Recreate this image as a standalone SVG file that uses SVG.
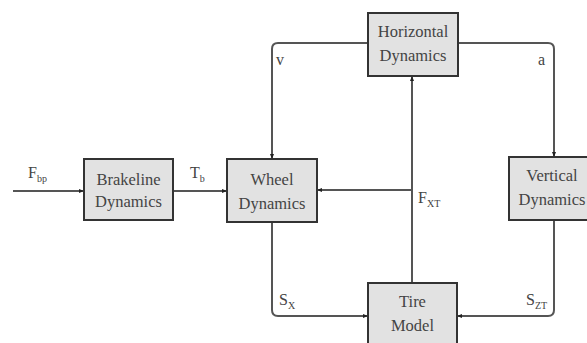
<svg xmlns="http://www.w3.org/2000/svg" width="587" height="343" viewBox="0 0 587 343">
<defs>
<marker id="ah" viewBox="0 0 10 10" refX="10" refY="5" markerWidth="5" markerHeight="5" orient="auto" markerUnits="userSpaceOnUse">
<path d="M0,1 L10,5 L0,9 Z" fill="#222"/>
</marker>
<style>
.box{fill:#e2e2e2;stroke:#333;stroke-width:2}
.lbl{font-family:'Liberation Serif','DejaVu Serif',serif;font-size:16.5px;fill:#444;text-anchor:middle}
.sig{font-family:'Liberation Serif','DejaVu Serif',serif;font-size:16px;fill:#444}
.sub{font-size:10px}
.ln{fill:none;stroke:#555;stroke-width:2}
</style>
</defs>
<rect width="587" height="343" fill="#fff"/>
<g id="connectors">
<path class="ln" d="M13,191 H84" marker-end="url(#ah)"/>
<path class="ln" d="M173,191 H227" marker-end="url(#ah)"/>
<path class="ln" d="M368,43 H278 Q272,43 272,49 V159" marker-end="url(#ah)"/>
<path class="ln" d="M458,43 H548 Q554,43 554,49 V157" marker-end="url(#ah)"/>
<path class="ln" d="M412,283 V76" marker-end="url(#ah)"/>
<path class="ln" d="M412,190 H317" marker-end="url(#ah)"/>
<path class="ln" d="M272,222 V310 Q272,316 278,316 H368" marker-end="url(#ah)"/>
<path class="ln" d="M554,220 V310 Q554,316 548,316 H457" marker-end="url(#ah)"/>
<text class="sig" x="28" y="178">F<tspan class="sub" dy="4">bp</tspan></text>
<text class="sig" x="190" y="178">T<tspan class="sub" dy="4">b</tspan></text>
<text class="sig" x="276" y="65">v</text>
<text class="sig" x="538" y="65">a</text>
<text class="sig" x="418" y="203">F<tspan class="sub" dy="4">XT</tspan></text>
<text class="sig" x="279" y="305">S<tspan class="sub" dy="4">X</tspan></text>
<text class="sig" x="526" y="305">S<tspan class="sub" dy="4">ZT</tspan></text>
</g>
<g id="brakeline">
<rect class="box" x="84" y="159" width="89" height="61"/>
<text class="lbl" x="128.5" y="185">Brakeline</text>
<text class="lbl" x="128.5" y="207">Dynamics</text>
</g>
<g id="wheel">
<rect class="box" x="227" y="159" width="90" height="63"/>
<text class="lbl" x="272" y="185">Wheel</text>
<text class="lbl" x="272" y="209">Dynamics</text>
</g>
<g id="horizontal">
<rect class="box" x="368" y="13" width="90" height="63"/>
<text class="lbl" x="413" y="37">Horizontal</text>
<text class="lbl" x="413" y="61">Dynamics</text>
</g>
<g id="vertical">
<rect class="box" x="509" y="157" width="92" height="63"/>
<text class="lbl" x="552" y="181">Vertical</text>
<text class="lbl" x="552" y="205">Dynamics</text>
</g>
<g id="tire">
<rect class="box" x="368" y="283" width="89" height="65"/>
<text class="lbl" x="412.5" y="307">Tire</text>
<text class="lbl" x="412.5" y="331">Model</text>
</g>
</svg>
